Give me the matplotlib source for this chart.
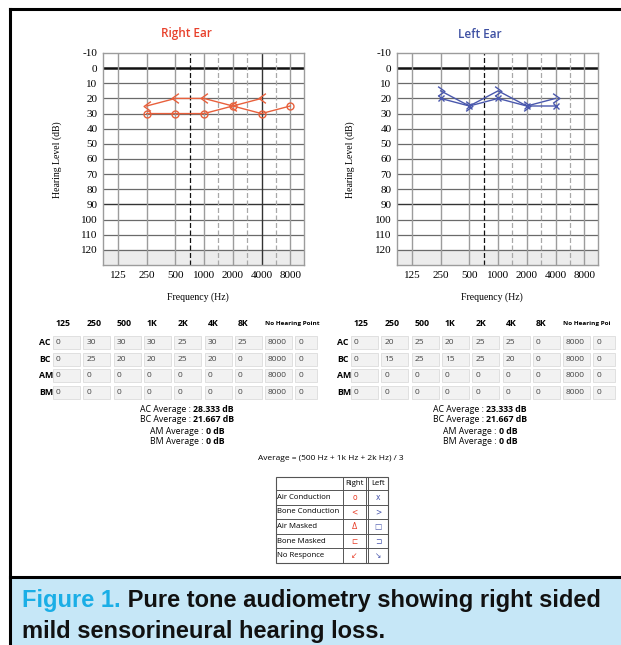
import matplotlib

matplotlib.use("Agg")
import matplotlib.pyplot as plt
import numpy as np
from matplotlib.path import Path
from matplotlib.patches import Rectangle
from matplotlib.transforms import Bbox, TransformedBbox

W, H = 621, 645

# ---- data ----
freq_labels = ["125", "250", "500", "1000", "2000", "4000", "8000"]
col_labels = ["125", "250", "500", "1K", "2K", "4K", "8K"]
row_labels = ["AC", "BC", "AM", "BM"]

right_ac = [0, 30, 30, 30, 25, 30, 25]
right_bc = [0, 25, 20, 20, 25, 20, 0]
right_am = [0, 0, 0, 0, 0, 0, 0]
right_bm = [0, 0, 0, 0, 0, 0, 0]

left_ac = [0, 20, 25, 20, 25, 25, 0]
left_bc = [0, 15, 25, 15, 25, 20, 0]
left_am = [0, 0, 0, 0, 0, 0, 0]
left_bm = [0, 0, 0, 0, 0, 0, 0]

no_hearing_point = ["8000", "0"]
y_ticks = list(range(-10, 130, 10))

legend_rows = ["Air Conduction", "Bone Conduction", "Air Masked", "Bone Masked", "No Responce"]
legend_right = ["o", "<", "\u0394", "\u228f", "\u2199"]
legend_left = ["x", ">", "\u25a1", "\u2290", "\u2198"]

RED = "#e8603c"
BLUE = "#4a58ad"
SERIF = "Liberation Serif"
UI = "Open Sans"
CAP = "Liberation Sans"

chev_left = Path([(0.7, 1.0), (-0.7, 0.0), (0.7, -1.0)], [Path.MOVETO, Path.LINETO, Path.LINETO])
chev_right = Path([(-0.7, 1.0), (0.7, 0.0), (-0.7, -1.0)], [Path.MOVETO, Path.LINETO, Path.LINETO])


def px_axes(x0, y0, x1, y1):
    return [x0 / W, 1 - y1 / H, (x1 - x0) / W, (y1 - y0) / H]


def draw_audiogram(ax, dark_line_x):
    x = np.arange(len(freq_labels))
    ax.set_xlim(-0.52, 6.48)
    ax.set_ylim(130, -10)
    ax.axhspan(120, 130, color="#ececec", zorder=0)
    for yv in y_ticks[1:]:
        if yv == 0:
            ax.axhline(yv, color="#111111", lw=1.8, zorder=1)
        elif yv == 90:
            ax.axhline(yv, color="#333333", lw=1.0, zorder=1)
        else:
            ax.axhline(yv, color="#6a6a6a", lw=0.9, zorder=1)
    for xv in x:
        c = "#333333" if xv == dark_line_x else "#9c9c9c"
        ax.axvline(xv, color=c, lw=1.0, zorder=1)
    ax.axvline(2.5, color="#111111", lw=0.9, ls=(0, (4, 2)), zorder=1)
    for xv in (3.5, 4.5, 5.5):
        ax.axvline(xv, color="#a8a8a8", lw=0.9, ls=(0, (4, 2)), zorder=1)
    ax.set_xticks(x)
    ax.set_xticklabels(freq_labels, fontfamily=SERIF, fontsize=8)
    ax.set_yticks(y_ticks)
    ax.set_yticklabels([str(v) for v in y_ticks], fontfamily=SERIF, fontsize=8)
    ax.tick_params(length=0, pad=4)
    for s in ax.spines.values():
        s.set_color("#9c9c9c")
        s.set_linewidth(1.0)


def plot_series(ax, values, color, marker, ms):
    x = np.array([i for i, v in enumerate(values) if v != 0])
    y = np.array([v for v in values if v != 0])
    ax.plot(x, y, color=color, lw=1.0, marker=marker, ms=ms, mfc="none", mec=color, mew=1.0, zorder=3)


def draw_table(bg, dx, rows):
    lefts = [53 + 30.3 * i for i in range(9)]
    widths = [27] * 8 + [22]
    for i, lab in enumerate(col_labels):
        bg.text(lefts[i] + dx + 3, 324, lab, fontfamily=UI, fontsize=6.3, fontweight="bold",
                ha="left", va="center")
    t = bg.text(lefts[7] + dx, 324, "No Hearing Point", fontfamily=UI, fontsize=4.6, fontweight="bold",
                ha="left", va="center")
    t.set_clip_box(TransformedBbox(Bbox.from_extents(0, 0, 610 / W, 1), fig.transFigure))
    t.set_clip_on(True)
    for r, name in enumerate(row_labels):
        top = 336 + 16.7 * r
        bg.text(39 + dx, top + 6.5, name, fontfamily=UI, fontsize=6.3, fontweight="bold",
                ha="left", va="center")
        cells = [str(v) for v in rows[r]] + no_hearing_point
        for i, txt in enumerate(cells):
            bg.add_patch(Rectangle((lefts[i] + dx, top), widths[i], 13, facecolor="#f2f2f2",
                                   edgecolor="#dcdcdc", lw=0.6))
            bg.text(lefts[i] + dx + 3, top + 6.5, txt, fontfamily=UI, fontsize=6.0, color="#444444",
                    ha="left", va="center")


def draw_averages(bg, cx, rows):
    rend = fig.canvas.get_renderer()
    for k, name in enumerate(row_labels):
        vals = rows[k]
        avg = (vals[2] + vals[3] + vals[4]) / 3
        val = str(int(avg)) if avg == int(avg) else f"{avg:.3f}"
        y = 409 + 11 * k
        ta = bg.text(cx, y, name + " Average :", fontfamily=UI, fontsize=6.3, ha="left", va="center")
        tb = bg.text(cx, y, val + " dB", fontfamily=UI, fontsize=6.3, fontweight="bold",
                     ha="left", va="center")
        wa = ta.get_window_extent(rend).width
        wb = tb.get_window_extent(rend).width
        gap = 2.5
        x0 = cx - (wa + gap + wb) / 2
        ta.set_x(x0)
        tb.set_x(x0 + wa + gap)


fig = plt.figure(figsize=(W / 100, H / 100), dpi=100)
bg = fig.add_axes([0, 0, 1, 1])
bg.set_xlim(0, W)
bg.set_ylim(H, 0)
bg.axis("off")

# frame and caption box
bg.add_patch(Rectangle((10, 577), W - 10, H - 577, facecolor="#c6e7f7", edgecolor="none"))
bg.plot([10, W], [9, 9], color="black", lw=2.2)
bg.plot([10, 10], [9, H], color="black", lw=2.2)
bg.plot([10, W], [577, 577], color="black", lw=2.2)

# audiograms
ax_r = fig.add_axes(px_axes(103, 53, 304, 265))
draw_audiogram(ax_r, 5)
plot_series(ax_r, right_ac, RED, "o", 5)
plot_series(ax_r, right_bc, RED, chev_left, 7)

ax_l = fig.add_axes(px_axes(397, 53, 598, 265))
draw_audiogram(ax_l, -1)
plot_series(ax_l, left_ac, BLUE, "x", 5)
plot_series(ax_l, left_bc, BLUE, chev_right, 7)

bg.text(186, 34, "Right Ear", color="#e8412c", fontfamily=UI, fontsize=8.5, fontweight="semibold",
        ha="center", va="center")
bg.text(480, 34, "Left Ear", color="#3f51a3", fontfamily=UI, fontsize=8.5, fontweight="semibold",
        ha="center", va="center")
for cx, lx in ((198, 57), (492, 350)):
    bg.text(cx, 297, "Frequency (Hz)", fontfamily=SERIF, fontsize=7, ha="center", va="center")
    bg.text(lx, 160, "Hearing Level (dB)", fontfamily=SERIF, fontsize=7, rotation=90,
            ha="center", va="center")

# tables
draw_table(bg, 0, [right_ac, right_bc, right_am, right_bm])
draw_table(bg, 298, [left_ac, left_bc, left_am, left_bm])
draw_averages(bg, 187, [right_ac, right_bc, right_am, right_bm])
draw_averages(bg, 480, [left_ac, left_bc, left_am, left_bm])
bg.text(331, 459, "Average = (500 Hz + 1k Hz + 2k Hz) / 3", fontfamily=UI, fontsize=6.0,
        ha="center", va="center")

# symbol legend
lx0, lx1, cr, cl = 276, 388, 343, 366
row_y = [477, 490] + [490 + 14.6 * (i + 1) for i in range(5)]
bg.add_patch(Rectangle((lx0, row_y[0]), lx1 - lx0, row_y[-1] - row_y[0], facecolor="white",
                       edgecolor="#555555", lw=0.8))
for yv in row_y[1:-1]:
    bg.plot([lx0, lx1], [yv, yv], color="#555555", lw=0.7)
for xv in (cr, cl, cl + 2):
    bg.plot([xv, xv], [row_y[0], row_y[-1]], color="#555555", lw=0.7)
bg.text((cr + cl) / 2, (row_y[0] + row_y[1]) / 2, "Right", fontfamily=UI, fontsize=5.6,
        ha="center", va="center")
bg.text((cl + 2 + lx1) / 2, (row_y[0] + row_y[1]) / 2, "Left", fontfamily=UI, fontsize=5.6,
        ha="center", va="center")
for i, name in enumerate(legend_rows):
    yc = (row_y[i + 1] + row_y[i + 2]) / 2
    bg.text(lx0 + 1, yc, name, fontfamily=UI, fontsize=5.6, ha="left", va="center")
    bg.text((cr + cl) / 2, yc, legend_right[i], fontfamily="DejaVu Sans", fontsize=5.5, color="#e8412c",
            ha="center", va="center")
    bg.text((cl + 2 + lx1) / 2, yc, legend_left[i], fontfamily="DejaVu Sans", fontsize=5.5, color=BLUE,
            ha="center", va="center")

# caption
t1 = bg.text(22, 607, "Figure 1.", color="#1aaee6", fontfamily=CAP, fontweight="bold",
             fontsize=17, ha="left", va="baseline")
bg.annotate(" Pure tone audiometry showing right sided", xy=(1, 0), xycoords=t1, fontfamily=CAP,
            fontweight="bold", fontsize=17, ha="left", va="bottom", color="#111111")
bg.text(22, 638, "mild sensorineural hearing loss.", fontfamily=CAP, fontweight="bold",
        fontsize=17, ha="left", va="baseline", color="#111111")

fig.savefig("out.png", dpi=100)
